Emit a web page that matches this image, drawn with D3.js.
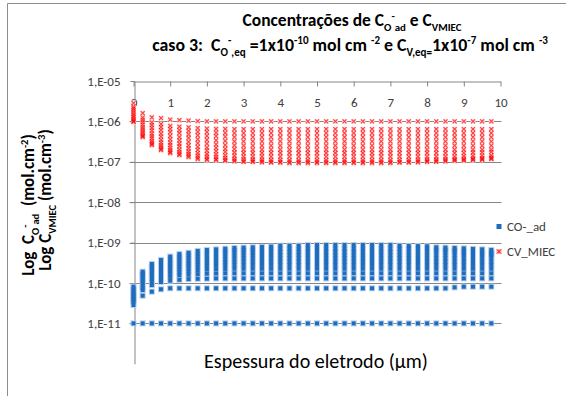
<!DOCTYPE html>
<html><head><meta charset="utf-8">
<script src="https://cdn.jsdelivr.net/npm/d3@7"></script>
<style>body{margin:0;background:#fff}svg{display:block}text{white-space:pre}</style></head>
<body><svg id="c" width="566" height="396"></svg>
<script>
// ---- data ----
const positions = [0,0.25,0.5,0.75,1,1.25,1.5,1.75,2,2.25,2.5,2.75,3,3.25,3.5,3.75,4,4.25,4.5,4.75,5,5.25,5.5,5.75,6,6.25,6.5,6.75,7,7.25,7.5,7.75,8,8.25,8.5,8.75,9,9.25,9.5,9.75];
const xTicks = [0,1,2,3,4,5,6,7,8,9,10];
const yTicks = [1e-5,1e-6,1e-7,1e-8,1e-9,1e-10,1e-11];
const yTickLabels = ["1,E-05","1,E-06","1,E-07","1,E-08","1,E-09","1,E-10","1,E-11"];
const seriesNames = ["CO-_ad","CV_MIEC"];

// CV_MIEC snapshots (mol cm-3), one array per snapshot, one value per position
const cv0 = [2.85e-6,1.6e-6,1.26e-6,1.2e-6,1.1e-6,1.07e-6,1.05e-6,1.02e-6,1e-6,1e-6,1e-6,1e-6,1e-6,1e-6,1e-6,1e-6,1e-6,1e-6,1e-6,1e-6,1e-6,1e-6,1e-6,1e-6,1e-6,1e-6,1e-6,1e-6,1e-6,1e-6,1e-6,1e-6,1e-6,1e-6,1e-6,1e-6,1e-6,1e-6,1e-6,1e-6];
const cv1 = [2.33e-6,1.24e-6,9.4e-7,8.55e-7,7.7e-7,7.4e-7,7.1e-7,6.8e-7,6.6e-7,6.5e-7,6.5e-7,6.4e-7,6.4e-7,6.4e-7,6.4e-7,6.4e-7,6.4e-7,6.4e-7,6.4e-7,6.4e-7,6.4e-7,6.4e-7,6.4e-7,6.4e-7,6.4e-7,6.4e-7,6.4e-7,6.4e-7,6.4e-7,6.4e-7,6.4e-7,6.4e-7,6.4e-7,6.4e-7,6.4e-7,6.4e-7,6.4e-7,6.4e-7,6.4e-7,6.4e-7];
const cv2 = [2.1e-6,1.09e-6,8.1e-7,7.2e-7,6.4e-7,6.1e-7,5.8e-7,5.5e-7,5.4e-7,5.3e-7,5.2e-7,5.1e-7,5.1e-7,5.1e-7,5.1e-7,5.1e-7,5.1e-7,5.1e-7,5.1e-7,5.1e-7,5.1e-7,5.1e-7,5.1e-7,5.1e-7,5.1e-7,5.1e-7,5.1e-7,5.1e-7,5.1e-7,5.1e-7,5.1e-7,5.1e-7,5.1e-7,5.1e-7,5.1e-7,5.1e-7,5.1e-7,5.1e-7,5.1e-7,5.1e-7];
const cv3 = [1.9e-6,9.6e-7,6.95e-7,6.1e-7,5.4e-7,5.1e-7,4.8e-7,4.5e-7,4.4e-7,4.3e-7,4.2e-7,4.1e-7,4.1e-7,4.1e-7,4.1e-7,4.1e-7,4.1e-7,4.1e-7,4.1e-7,4.1e-7,4.1e-7,4.1e-7,4.1e-7,4.1e-7,4.1e-7,4.1e-7,4.1e-7,4.1e-7,4.1e-7,4.1e-7,4.1e-7,4.1e-7,4.1e-7,4.1e-7,4.1e-7,4.1e-7,4.1e-7,4.1e-7,4.1e-7,4.1e-7];
const cv4 = [1.69e-6,8.3e-7,5.9e-7,5.0e-7,4.4e-7,4.1e-7,3.9e-7,3.6e-7,3.5e-7,3.4e-7,3.3e-7,3.2e-7,3.2e-7,3.2e-7,3.2e-7,3.2e-7,3.2e-7,3.2e-7,3.2e-7,3.2e-7,3.2e-7,3.2e-7,3.2e-7,3.2e-7,3.2e-7,3.2e-7,3.2e-7,3.2e-7,3.2e-7,3.2e-7,3.2e-7,3.2e-7,3.2e-7,3.2e-7,3.2e-7,3.2e-7,3.2e-7,3.2e-7,3.2e-7,3.2e-7];
const cv5 = [1.52e-6,7.2e-7,5.0e-7,4.2e-7,3.6e-7,3.4e-7,3.1e-7,2.9e-7,2.8e-7,2.7e-7,2.6e-7,2.55e-7,2.5e-7,2.5e-7,2.5e-7,2.5e-7,2.5e-7,2.5e-7,2.5e-7,2.5e-7,2.5e-7,2.5e-7,2.5e-7,2.5e-7,2.5e-7,2.5e-7,2.5e-7,2.5e-7,2.5e-7,2.5e-7,2.5e-7,2.5e-7,2.5e-7,2.5e-7,2.5e-7,2.5e-7,2.5e-7,2.5e-7,2.5e-7,2.5e-7];
const cv6 = [1.37e-6,6.4e-7,4.3e-7,3.5e-7,3.0e-7,2.8e-7,2.55e-7,2.35e-7,2.25e-7,2.2e-7,2.1e-7,2.05e-7,2e-7,2e-7,2e-7,2e-7,2e-7,2e-7,2e-7,2e-7,2e-7,2e-7,2e-7,2e-7,2e-7,2e-7,2e-7,2e-7,2e-7,2e-7,2e-7,2e-7,2e-7,2e-7,2e-7,2e-7,2e-7,2e-7,2e-7,2e-7];
const cv7 = [1.25e-6,5.7e-7,3.8e-7,3.0e-7,2.6e-7,2.4e-7,2.15e-7,1.98e-7,1.88e-7,1.84e-7,1.75e-7,1.7e-7,1.65e-7,1.65e-7,1.65e-7,1.65e-7,1.65e-7,1.65e-7,1.65e-7,1.65e-7,1.65e-7,1.65e-7,1.65e-7,1.65e-7,1.65e-7,1.65e-7,1.65e-7,1.65e-7,1.65e-7,1.65e-7,1.65e-7,1.65e-7,1.65e-7,1.65e-7,1.65e-7,1.65e-7,1.67e-7,1.7e-7,1.72e-7,1.75e-7];
const cv8 = [1.14e-6,5.1e-7,3.3e-7,2.6e-7,2.2e-7,2.0e-7,1.8e-7,1.64e-7,1.56e-7,1.53e-7,1.45e-7,1.4e-7,1.35e-7,1.35e-7,1.35e-7,1.35e-7,1.35e-7,1.35e-7,1.35e-7,1.35e-7,1.35e-7,1.35e-7,1.35e-7,1.35e-7,1.35e-7,1.35e-7,1.35e-7,1.35e-7,1.35e-7,1.35e-7,1.35e-7,1.35e-7,1.35e-7,1.35e-7,1.35e-7,1.35e-7,1.38e-7,1.4e-7,1.42e-7,1.45e-7];
const cv9 = [1.06e-6,4.6e-7,3.0e-7,2.3e-7,1.95e-7,1.75e-7,1.58e-7,1.42e-7,1.35e-7,1.32e-7,1.25e-7,1.2e-7,1.15e-7,1.14e-7,1.13e-7,1.12e-7,1.12e-7,1.1e-7,1.1e-7,1.1e-7,1.1e-7,1.1e-7,1.1e-7,1.1e-7,1.1e-7,1.1e-7,1.1e-7,1.1e-7,1.1e-7,1.12e-7,1.12e-7,1.13e-7,1.14e-7,1.15e-7,1.16e-7,1.18e-7,1.2e-7,1.22e-7,1.24e-7,1.28e-7];
const cv10 = [1.0e-6,4.3e-7,2.75e-7,2.1e-7,1.77e-7,1.58e-7,1.42e-7,1.27e-7,1.2e-7,1.17e-7,1.12e-7,1.08e-7,1.04e-7,1.03e-7,1.02e-7,1.01e-7,1.0e-7,9.9e-8,9.9e-8,9.9e-8,9.9e-8,9.9e-8,9.9e-8,9.9e-8,9.9e-8,9.9e-8,9.9e-8,9.9e-8,9.9e-8,1.0e-7,1.01e-7,1.02e-7,1.04e-7,1.05e-7,1.07e-7,1.1e-7,1.12e-7,1.15e-7,1.17e-7,1.21e-7];
const cv11 = [9.7e-7,4.1e-7,2.6e-7,1.96e-7,1.65e-7,1.47e-7,1.31e-7,1.17e-7,1.11e-7,1.1e-7,1.05e-7,1.03e-7,1.0e-7,9.9e-8,9.7e-8,9.6e-8,9.5e-8,9.3e-8,9.3e-8,9.3e-8,9.3e-8,9.3e-8,9.3e-8,9.3e-8,9.3e-8,9.3e-8,9.3e-8,9.3e-8,9.3e-8,9.5e-8,9.6e-8,9.7e-8,9.9e-8,1.0e-7,1.02e-7,1.05e-7,1.07e-7,1.1e-7,1.12e-7,1.17e-7];

// CO-_ad snapshots (mol cm-2)
const co0 = [1e-11,1e-11,1e-11,1e-11,1e-11,1e-11,1e-11,1e-11,1e-11,1e-11,1e-11,1e-11,1e-11,1e-11,1e-11,1e-11,1e-11,1e-11,1e-11,1e-11,1e-11,1e-11,1e-11,1e-11,1e-11,1e-11,1e-11,1e-11,1e-11,1e-11,1e-11,1e-11,1e-11,1e-11,1e-11,1e-11,1e-11,1e-11,1e-11,1e-11];
const co1 = [2.85e-11,4.85e-11,6.1e-11,7.0e-11,7.4e-11,7.4e-11,7.4e-11,7.4e-11,7.4e-11,7.4e-11,7.4e-11,7.4e-11,7.4e-11,7.4e-11,7.4e-11,7.4e-11,7.4e-11,7.4e-11,7.4e-11,7.4e-11,7.4e-11,7.4e-11,7.4e-11,7.4e-11,7.4e-11,7.4e-11,7.4e-11,7.4e-11,7.4e-11,7.4e-11,7.4e-11,7.4e-11,7.4e-11,7.4e-11,7.4e-11,7.8e-11,8.1e-11,8.1e-11,8.1e-11,8.1e-11];
const co2 = [3.4e-11,6.7e-11,8.9e-11,1.06e-10,1.14e-10,1.2e-10,1.25e-10,1.27e-10,1.28e-10,1.3e-10,1.3e-10,1.3e-10,1.3e-10,1.3e-10,1.3e-10,1.3e-10,1.3e-10,1.3e-10,1.3e-10,1.3e-10,1.3e-10,1.3e-10,1.3e-10,1.3e-10,1.3e-10,1.3e-10,1.3e-10,1.3e-10,1.3e-10,1.3e-10,1.3e-10,1.3e-10,1.3e-10,1.3e-10,1.3e-10,1.3e-10,1.3e-10,1.3e-10,1.3e-10,1.3e-10];
const co3 = [3.7e-11,7.6e-11,1.05e-10,1.25e-10,1.42e-10,1.55e-10,1.6e-10,1.65e-10,1.7e-10,1.72e-10,1.74e-10,1.74e-10,1.74e-10,1.74e-10,1.74e-10,1.74e-10,1.74e-10,1.74e-10,1.74e-10,1.74e-10,1.74e-10,1.74e-10,1.74e-10,1.74e-10,1.74e-10,1.74e-10,1.74e-10,1.74e-10,1.74e-10,1.74e-10,1.74e-10,1.74e-10,1.74e-10,1.74e-10,1.74e-10,1.74e-10,1.74e-10,1.74e-10,1.74e-10,1.74e-10];
const co4 = [4.0e-11,8.7e-11,1.22e-10,1.46e-10,1.7e-10,1.85e-10,1.95e-10,2.05e-10,2.15e-10,2.2e-10,2.22e-10,2.25e-10,2.25e-10,2.25e-10,2.25e-10,2.25e-10,2.25e-10,2.25e-10,2.25e-10,2.25e-10,2.25e-10,2.25e-10,2.25e-10,2.25e-10,2.25e-10,2.25e-10,2.25e-10,2.25e-10,2.25e-10,2.25e-10,2.25e-10,2.25e-10,2.25e-10,2.25e-10,2.25e-10,2.25e-10,2.25e-10,2.25e-10,2.25e-10,2.25e-10];
const co5 = [4.4e-11,1.0e-10,1.42e-10,1.7e-10,2.0e-10,2.2e-10,2.3e-10,2.45e-10,2.6e-10,2.7e-10,2.75e-10,2.78e-10,2.8e-10,2.8e-10,2.8e-10,2.8e-10,2.8e-10,2.8e-10,2.8e-10,2.8e-10,2.8e-10,2.8e-10,2.8e-10,2.8e-10,2.8e-10,2.8e-10,2.8e-10,2.8e-10,2.8e-10,2.8e-10,2.8e-10,2.8e-10,2.8e-10,2.8e-10,2.8e-10,2.8e-10,2.8e-10,2.8e-10,2.8e-10,2.8e-10];
const co6 = [4.8e-11,1.12e-10,1.62e-10,1.95e-10,2.3e-10,2.55e-10,2.7e-10,2.9e-10,3.1e-10,3.2e-10,3.3e-10,3.35e-10,3.4e-10,3.4e-10,3.4e-10,3.4e-10,3.4e-10,3.4e-10,3.4e-10,3.4e-10,3.4e-10,3.4e-10,3.4e-10,3.4e-10,3.4e-10,3.4e-10,3.4e-10,3.4e-10,3.4e-10,3.4e-10,3.4e-10,3.4e-10,3.4e-10,3.4e-10,3.4e-10,3.4e-10,3.4e-10,3.4e-10,3.4e-10,3.4e-10];
const co7 = [5.3e-11,1.26e-10,1.85e-10,2.25e-10,2.65e-10,2.95e-10,3.1e-10,3.35e-10,3.6e-10,3.8e-10,3.9e-10,4.0e-10,4.1e-10,4.1e-10,4.1e-10,4.1e-10,4.1e-10,4.1e-10,4.1e-10,4.1e-10,4.1e-10,4.1e-10,4.1e-10,4.1e-10,4.1e-10,4.1e-10,4.1e-10,4.1e-10,4.1e-10,4.1e-10,4.1e-10,4.1e-10,4.1e-10,4.1e-10,4.1e-10,4.1e-10,4.1e-10,4.1e-10,4.1e-10,4.1e-10];
const co8 = [5.8e-11,1.42e-10,2.1e-10,2.55e-10,3.0e-10,3.4e-10,3.6e-10,3.9e-10,4.2e-10,4.4e-10,4.6e-10,4.75e-10,4.85e-10,4.9e-10,4.9e-10,4.9e-10,4.9e-10,4.9e-10,4.9e-10,4.9e-10,4.9e-10,4.9e-10,4.9e-10,4.9e-10,4.9e-10,4.9e-10,4.9e-10,4.9e-10,4.9e-10,4.9e-10,4.9e-10,4.9e-10,4.9e-10,4.9e-10,4.9e-10,4.9e-10,4.9e-10,4.9e-10,4.9e-10,4.9e-10];
const co9 = [6.4e-11,1.58e-10,2.38e-10,2.9e-10,3.4e-10,3.9e-10,4.2e-10,4.5e-10,4.9e-10,5.1e-10,5.4e-10,5.6e-10,5.7e-10,5.75e-10,5.8e-10,5.8e-10,5.8e-10,5.8e-10,5.8e-10,5.9e-10,5.9e-10,5.9e-10,5.9e-10,5.9e-10,5.9e-10,5.9e-10,5.9e-10,5.9e-10,5.9e-10,5.9e-10,5.9e-10,5.9e-10,5.9e-10,5.9e-10,5.8e-10,5.8e-10,5.5e-10,5.4e-10,5.3e-10,5.2e-10];
const co10 = [7.2e-11,1.74e-10,2.65e-10,3.3e-10,3.9e-10,4.5e-10,4.9e-10,5.3e-10,5.7e-10,5.9e-10,6.2e-10,6.5e-10,6.6e-10,6.7e-10,6.8e-10,6.85e-10,6.9e-10,6.9e-10,6.9e-10,7.0e-10,7.0e-10,7.0e-10,7.0e-10,7.0e-10,7.0e-10,7.0e-10,7.0e-10,7.0e-10,7.0e-10,7.0e-10,7.0e-10,7.0e-10,7.0e-10,6.7e-10,6.6e-10,6.5e-10,6.3e-10,6.1e-10,6.0e-10,5.8e-10];
const co11 = [8.1e-11,1.9e-10,2.95e-10,3.7e-10,4.5e-10,5.2e-10,5.6e-10,6.2e-10,6.55e-10,6.8e-10,7.06e-10,7.35e-10,7.5e-10,7.65e-10,7.8e-10,7.94e-10,8.4e-10,8.4e-10,8.4e-10,8.7e-10,8.7e-10,8.7e-10,8.7e-10,8.7e-10,8.7e-10,8.7e-10,8.7e-10,8.7e-10,8.7e-10,8.4e-10,8.3e-10,8.2e-10,8.1e-10,7.65e-10,7.5e-10,7.35e-10,7.2e-10,6.95e-10,6.8e-10,6.55e-10];

const cvSnapshots = [cv0,cv1,cv2,cv3,cv4,cv5,cv6,cv7,cv8,cv9,cv10,cv11];
const coSnapshots = [co0,co1,co2,co3,co4,co5,co6,co7,co8,co9,co10,co11];

// ---- drawing ----
const svg = d3.select("#c");
const FONT = "Carlito, Lato, 'Liberation Sans', sans-serif";
svg.append("path").attr("d","M7.5,396V3.5H566").attr("fill","none").attr("stroke","#8c8c8c");

const x = d3.scaleLinear().domain([0,10]).range([133.5,500.5]);
const y = d3.scaleLog().domain([1e-5,1e-12]).range([81, 81+7*40.4]);

// gridlines
svg.append("g").selectAll("line").data(yTicks.slice(1)).join("line")
  .attr("x1",x(0)-4).attr("x2",x(10)+1).attr("y1",d=>Math.round(y(d))+0.5).attr("y2",d=>Math.round(y(d))+0.5)
  .attr("stroke","#868686").attr("stroke-width",1);

// axes
const gx = svg.append("g").attr("transform",`translate(0,${Math.round(y(1e-5))+0.5})`)
  .call(d3.axisBottom(x).tickValues(xTicks).tickSize(5).tickSizeOuter(0).tickFormat(d3.format("d")));
gx.select(".domain").attr("stroke","#868686");
gx.selectAll(".tick line").attr("stroke","#868686");
gx.selectAll(".tick text").attr("font-family",FONT).attr("font-size",13).attr("fill","#404040").attr("dy","1.35em");

const gy = svg.append("g").attr("transform",`translate(${Math.round(x(0))+0.5},0)`)
  .call(d3.axisLeft(y).tickValues(yTicks).tickSize(4).tickSizeOuter(0).tickFormat((d,i)=>yTickLabels[i]));
gy.select(".domain").attr("stroke","#868686");
gy.selectAll(".tick line").attr("stroke","#868686");
gy.selectAll(".tick text").attr("font-family",FONT).attr("font-size",13).attr("fill","#404040").attr("x",-14);

// points
const coPts = [];
coSnapshots.forEach(row=>row.forEach((v,i)=>coPts.push([positions[i],v])));
const cvPts = [];
cvSnapshots.forEach(row=>row.forEach((v,i)=>cvPts.push([positions[i],v])));

const gco = svg.append("g");
gco.selectAll("rect.h").data(coPts).join("rect").attr("class","h")
  .attr("x",d=>x(d[0])-3).attr("y",d=>y(d[1])-3).attr("width",6).attr("height",6)
  .attr("fill","#b4cfee");
gco.selectAll("rect.m").data(coPts).join("rect").attr("class","m")
  .attr("x",d=>x(d[0])-2).attr("y",d=>y(d[1])-2).attr("width",4).attr("height",4)
  .attr("fill","#1f6cbc");

const gcv = svg.append("g");
gcv.selectAll("rect.h").data(cvPts).join("rect").attr("class","h")
  .attr("x",d=>x(d[0])-2.5).attr("y",d=>y(d[1])-2.5).attr("width",5).attr("height",5)
  .attr("fill","#ffdcdc");
gcv.selectAll("path.m").data(cvPts).join("path").attr("class","m")
  .attr("d",d=>{const cx=x(d[0]),cy=y(d[1]);return `M${cx-2},${cy-2}L${cx+2},${cy+2}M${cx-2},${cy+2}L${cx+2},${cy-2}`;})
  .attr("stroke","#ff0000").attr("stroke-width",1.1).attr("fill","none").attr("opacity",0.72);

// rich text helper
function rich(g, parts, fs, anchor){
  const t = g.append("text").attr("font-family",FONT).attr("font-size",fs).attr("text-anchor",anchor||"middle");
  let cur = 0;
  parts.forEach(([s,m])=>{
    const target = m==="sub"? fs*0.28 : m==="sup"? -fs*0.38 : 0;
    t.append("tspan").attr("dy",target-cur).attr("font-size", m==="n"?fs:fs*0.62).text(s);
    cur = target;
  });
  return t;
}
function fitGroup(g, t, targetW, cx, cy){
  const w = t.node().getComputedTextLength();
  const k = targetW / w;
  g.attr("transform",`translate(${cx},${cy}) scale(${k})`);
}

// title
const t1g = svg.append("g");
const t1 = rich(t1g, [["Concentrações de C","n"],["O","sub"],["-","sup"],["ad","sub"],[" e C","n"],["VMIEC","sub"]], 16).attr("font-weight","bold").attr("fill","#000");
fitGroup(t1g, t1, 219, 352, 26);
const t2g = svg.append("g");
const t2 = rich(t2g, [["caso 3:  C","n"],["O","sub"],["-","sup"],[",eq","sub"],[" =1x10","n"],["-10","sup"],[" mol cm ","n"],["-2","sup"],[" e C","n"],["V,eq=","sub"],["1x10","n"],["-7","sup"],[" mol cm ","n"],["-3","sup"]], 16).attr("font-weight","bold").attr("fill","#000");
fitGroup(t2g, t2, 396, 350, 51);

// y-axis title (two rotated lines)
const ya = svg.append("g");
rich(ya.append("g").attr("transform","translate(34,205) rotate(-90)"),
  [["Log  C","n"],["O","sub"],["-","sup"],["ad","sub"],["  (mol.cm","n"],["-2","sup"],[")","n"]], 17).attr("font-weight","bold");
rich(ya.append("g").attr("transform","translate(51,200) rotate(-90)"),
  [["Log C","n"],["VMIEC","sub"],[" (mol.cm","n"],["-3","sup"],[")","n"]], 17).attr("font-weight","bold");

// x-axis title
const xa = svg.append("g");
const xat = xa.append("text").attr("font-family",FONT).attr("font-size",16).attr("text-anchor","middle").text("Espessura do eletrodo (µm)");
fitGroup(xa, xat, 224, 316, 368);

// legend
const lg = svg.append("g");
lg.append("rect").attr("x",496.5).attr("y",224).attr("width",5).attr("height",5).attr("fill","#1f6cbc");
lg.append("text").attr("x",507).attr("y",231).attr("font-family",FONT).attr("font-size",13).attr("fill","#404040").text(seriesNames[0]);
lg.append("rect").attr("x",496.5).attr("y",249).attr("width",5).attr("height",5).attr("fill","#ffb0b0");
lg.append("path").attr("d","M497,249.5L501,253.5M497,253.5L501,249.5").attr("stroke","#ff0000");
lg.append("text").attr("x",507).attr("y",256).attr("font-family",FONT).attr("font-size",13).attr("fill","#404040").text(seriesNames[1]);
</script></body></html>
